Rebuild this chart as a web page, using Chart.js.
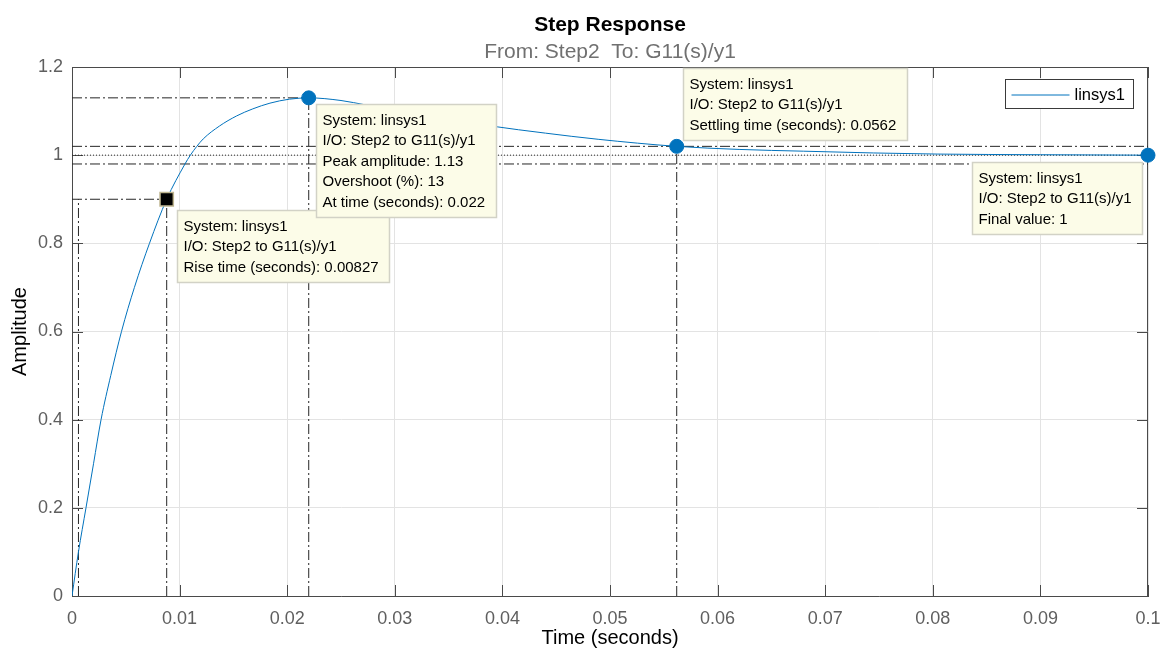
<!DOCTYPE html>
<html>
<head>
<meta charset="utf-8">
<title>Step Response</title>
<script src="https://cdn.jsdelivr.net/npm/chart.js@4.4.1/dist/chart.umd.min.js"></script>
<style>
  html, body { margin: 0; padding: 0; background: #fff; }
</style>
</head>
<body>
<canvas id="myChart" width="1161" height="650"></canvas>
<script>
// step response
var timeSec = [0, 0.0006, 0.0013, 0.002, 0.0027, 0.0036, 0.0046, 0.0058, 0.0072, 0.0088,
  0.0105, 0.011, 0.0116, 0.0122, 0.0137, 0.0153, 0.0168, 0.0184, 0.0202, 0.022,
  0.025, 0.0273, 0.030, 0.033, 0.036, 0.039, 0.044, 0.0489, 0.0562, 0.062, 0.068,
  0.0745, 0.0804, 0.09, 0.1];
var amplitude = [0, 0.1, 0.2, 0.3, 0.4, 0.5, 0.6, 0.7, 0.8, 0.9,
  0.98, 1.0, 1.02, 1.037, 1.066, 1.089, 1.105, 1.118, 1.127, 1.13,
  1.124, 1.114, 1.103, 1.091, 1.078, 1.066, 1.05, 1.036, 1.02, 1.013, 1.009,
  1.005, 1.0025, 1.001, 1.0];

// response characteristics
var riseTimes = [0.0006, 0.0088];   // 10% and 90% crossings
var riseLevels = [0.1, 0.9];
var peakTime = 0.022;
var peakAmp = 1.13;
var settleTime = 0.0562;
var settleBand = [0.98, 1.02];
var finalValue = 1;
var endTime = 0.1;

var xTicks = [0, 0.01, 0.02, 0.03, 0.04, 0.05, 0.06, 0.07, 0.08, 0.09, 0.1];
var yTicks = [0, 0.2, 0.4, 0.6, 0.8, 1, 1.2];

var tipTexts = {
  rise: ['System: linsys1', 'I/O: Step2 to G11(s)/y1', 'Rise time (seconds): 0.00827'],
  peak: ['System: linsys1', 'I/O: Step2 to G11(s)/y1', 'Peak amplitude: 1.13', 'Overshoot (%): 13', 'At time (seconds): 0.022'],
  settle: ['System: linsys1', 'I/O: Step2 to G11(s)/y1', 'Settling time (seconds): 0.0562'],
  final: ['System: linsys1', 'I/O: Step2 to G11(s)/y1', 'Final value: 1']
};

var blue = '#0072BD';
var axisCol = '#4a4a4a';
var refCol = '#262626';
var dashDot = [10, 3, 2, 3];
var sans = '"Liberation Sans", Arial, sans-serif';

function pts(xs, ys) {
  return xs.map(function (x, i) { return { x: x, y: ys[i] }; });
}

function refLine(data, dash) {
  return {
    label: 'ref', data: data, showLine: true, borderColor: refCol, borderWidth: 1,
    borderDash: dash, pointRadius: 0, order: 3
  };
}

function marker(name, x, y) {
  return { label: name, data: [{ x: x, y: y }], pointRadius: 7, pointBackgroundColor: blue,
    pointBorderColor: blue, clip: false, order: 0 };
}

var datasets = [
  marker('peakMark', peakTime, peakAmp),
  marker('settleMark', settleTime, settleBand[1]),
  marker('finalMark', endTime, finalValue),
  { label: 'riseMark', data: [{ x: riseTimes[1], y: riseLevels[1] }], pointStyle: 'rect', pointRadius: 9.4,
    pointBackgroundColor: '#000', pointBorderColor: '#bdb48e', pointBorderWidth: 1.5, clip: false, order: 0 },
  { label: 'linsys1', data: pts(timeSec, amplitude), showLine: true, borderColor: blue, borderWidth: 1,
    pointRadius: 0, cubicInterpolationMode: 'monotone', order: 2 },
  // rise time guides
  refLine([{ x: 0, y: riseLevels[1] }, { x: riseTimes[1], y: riseLevels[1] }], dashDot),
  refLine([{ x: riseTimes[0], y: 0 }, { x: riseTimes[0], y: riseLevels[1] }], dashDot),
  refLine([{ x: riseTimes[1], y: 0 }, { x: riseTimes[1], y: riseLevels[1] }], dashDot),
  // peak guides
  refLine([{ x: 0, y: peakAmp }, { x: peakTime, y: peakAmp }], dashDot),
  refLine([{ x: peakTime, y: 0 }, { x: peakTime, y: peakAmp }], dashDot),
  // settling band
  refLine([{ x: 0, y: settleBand[1] }, { x: endTime, y: settleBand[1] }], dashDot),
  refLine([{ x: 0, y: settleBand[0] }, { x: endTime, y: settleBand[0] }], dashDot),
  refLine([{ x: settleTime, y: 0 }, { x: settleTime, y: settleBand[1] }], dashDot),
  // final value
  refLine([{ x: 0, y: finalValue }, { x: endTime, y: finalValue }], [1, 2])
];

function drawTip(ctx, lines, px, py, dx, dy, alignRight, alignBottom) {
  ctx.save();
  ctx.font = '15px ' + sans;
  var w = 0;
  lines.forEach(function (s) { w = Math.max(w, ctx.measureText(s).width); });
  w = Math.round(w + 17);
  var lh = 20.5;
  var h = Math.round(16 + (lines.length - 1) * lh + 15);
  var x = alignRight ? px + dx - w : px + dx;
  var y = alignBottom ? py + dy - h : py + dy;
  x = Math.round(x) + 0.5; y = Math.round(y) + 0.5;
  ctx.fillStyle = '#fcfce8';
  ctx.strokeStyle = '#d2d2c6';
  ctx.lineWidth = 1.5;
  ctx.fillRect(x, y, w, h);
  ctx.strokeRect(x, y, w, h);
  ctx.fillStyle = '#000';
  ctx.textBaseline = 'middle';
  lines.forEach(function (s, i) { ctx.fillText(s, x + 6, y + 16 + i * lh); });
  ctx.restore();
}

var overlay = {
  id: 'overlay',
  afterDatasetDraw: function (chart, args) {
    // tips sit above the curve and guides, below the markers
    if (chart.data.datasets[args.index].label !== 'linsys1') return;
    var ctx = chart.ctx, xs = chart.scales.x, ys = chart.scales.y;
    drawTip(ctx, tipTexts.rise, xs.getPixelForValue(riseTimes[1]), ys.getPixelForValue(riseLevels[1]), 10, 11, false, false);
    drawTip(ctx, tipTexts.peak, xs.getPixelForValue(peakTime), ys.getPixelForValue(peakAmp), 7, 6, false, false);
    drawTip(ctx, tipTexts.settle, xs.getPixelForValue(settleTime), ys.getPixelForValue(settleBand[1]), 6, -6, false, true);
    drawTip(ctx, tipTexts.final, xs.getPixelForValue(endTime), ys.getPixelForValue(finalValue), -6, 7, true, false);
  },
  beforeDatasetsDraw: function (chart) {
    var ctx = chart.ctx, a = chart.chartArea, xs = chart.scales.x, ys = chart.scales.y;
    ctx.save();
    ctx.strokeStyle = axisCol;
    ctx.lineWidth = 1;
    ctx.beginPath();
    xTicks.forEach(function (v) {
      var px = Math.round(xs.getPixelForValue(v)) + 0.5;
      ctx.moveTo(px, a.bottom); ctx.lineTo(px, a.bottom - 11);
      ctx.moveTo(px, a.top); ctx.lineTo(px, a.top + 11);
    });
    yTicks.forEach(function (v) {
      var py = Math.round(ys.getPixelForValue(v)) + 0.5;
      ctx.moveTo(a.left, py); ctx.lineTo(a.left + 11, py);
      ctx.moveTo(a.right, py); ctx.lineTo(a.right - 11, py);
    });
    ctx.moveTo(a.left, a.top + 0.5); ctx.lineTo(a.right, a.top + 0.5);
    ctx.moveTo(a.right - 0.5, a.top); ctx.lineTo(a.right - 0.5, a.bottom);
    ctx.stroke();
    ctx.restore();
  },
  afterDraw: function (chart) {
    var ctx = chart.ctx, a = chart.chartArea;
    var cx = (a.left + a.right) / 2;
    ctx.save();
    ctx.textAlign = 'center';
    ctx.textBaseline = 'alphabetic';
    ctx.fillStyle = '#000';
    ctx.font = 'bold 21px ' + sans;
    ctx.fillText('Step Response', cx, 31);
    ctx.fillStyle = '#707070';
    ctx.font = '21px ' + sans;
    ctx.fillText('From: Step2  To: G11(s)/y1', cx, 58);

    // legend box
    var lx = a.right - 142.5, ly = a.top + 12.5;
    ctx.fillStyle = '#fff';
    ctx.strokeStyle = '#3a3a3a';
    ctx.lineWidth = 1;
    ctx.fillRect(lx, ly, 128, 29);
    ctx.strokeRect(lx, ly, 128, 29);
    ctx.strokeStyle = blue;
    ctx.beginPath();
    ctx.moveTo(lx + 6, ly + 15.5); ctx.lineTo(lx + 64, ly + 15.5);
    ctx.stroke();
    ctx.fillStyle = '#000';
    ctx.textAlign = 'left';
    ctx.textBaseline = 'middle';
    ctx.font = '16.5px ' + sans;
    ctx.fillText('linsys1', lx + 69, ly + 15.5);
    ctx.restore();
  }
};

var ctx = document.getElementById('myChart').getContext('2d');
var myChart = new Chart(ctx, {
  type: 'scatter',
  data: { datasets: datasets },
  options: {
    responsive: false,
    animation: false,
    layout: { padding: { top: 67, right: 13, left: 0, bottom: 0 } },
    plugins: {
      legend: { display: false },
      tooltip: { enabled: false },
      title: { display: false }
    },
    scales: {
      x: {
        type: 'linear', min: 0, max: 0.1,
        afterBuildTicks: function (scale) { scale.ticks = xTicks.map(function (v) { return { value: v }; }); },
        afterFit: function (scale) { scale.height = 54; scale.paddingLeft = 0; scale.paddingRight = 0; },
        ticks: {
          color: '#5f5f5f', font: { family: sans, size: 18 }, padding: 12, maxRotation: 0,
          callback: function (v) { return String(Number(v.toFixed(2))); }
        },
        grid: { color: '#e3e3e3', drawTicks: false },
        border: { color: axisCol, width: 1 },
        title: { display: true, text: 'Time (seconds)', color: '#000', font: { family: sans, size: 20 }, padding: { top: 0, bottom: 0 } }
      },
      y: {
        type: 'linear', min: 0, max: 1.2,
        afterBuildTicks: function (scale) { scale.ticks = yTicks.map(function (v) { return { value: v }; }); },
        afterFit: function (scale) { scale.width = 72; },
        ticks: {
          color: '#5f5f5f', font: { family: sans, size: 18 }, padding: 9,
          callback: function (v) { return String(Number(v.toFixed(1))); }
        },
        grid: { color: '#e3e3e3', drawTicks: false },
        border: { color: axisCol, width: 1 },
        title: { display: true, text: 'Amplitude', color: '#000', font: { family: sans, size: 20 }, padding: { top: 8, bottom: 0 } }
      }
    }
  },
  plugins: [overlay]
});
</script>
</body>
</html>
